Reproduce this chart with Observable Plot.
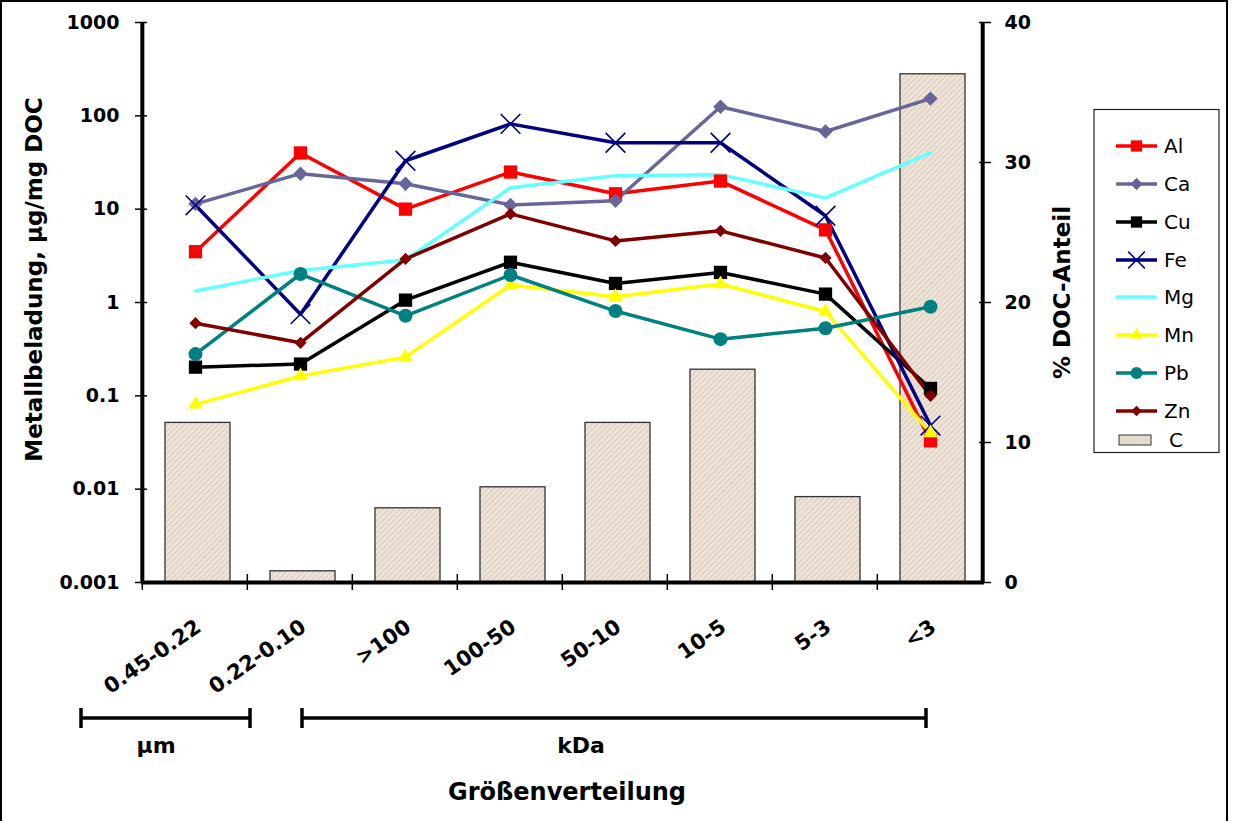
<!DOCTYPE html>
<html><head><meta charset="utf-8">
<script src="https://cdn.jsdelivr.net/npm/d3@7"></script>
<script src="https://cdn.jsdelivr.net/npm/@observablehq/plot@0.6"></script>
<style>
body{margin:0;background:#fff;}
#wrap{position:relative;width:1236px;height:821px;overflow:hidden;font-family:"DejaVu Sans",sans-serif;background:#fff;}
#wrap > svg, #wrap > div{position:absolute;left:0;top:0;}
#border{position:absolute;left:5px;top:6px;width:1228px;height:900px;border:2.5px solid #000;box-sizing:border-box;}
</style></head><body><div id="wrap"><div id="border"></div></div>
<script>
// ---- data ----
const categories = ["0.45-0.22","0.22-0.10",">100","100-50","50-10","10-5","5-3","<3"];
const Al = [3.5, 40, 10, 25, 14.6, 20, 6, 0.033];
const Ca = [11.4, 24, 18.7, 11.1, 12.3, 125, 68, 153];
const Cu = [0.203, 0.219, 1.06, 2.7, 1.6, 2.1, 1.23, 0.12];
const Fe = [11, 0.75, 33, 82, 51.5, 51.5, 8.5, 0.048];
const Mg = [1.33, 2.2, 2.86, 17, 22.8, 23.4, 13.2, 40];
const Mn = [0.081, 0.163, 0.26, 1.54, 1.15, 1.58, 0.8, 0.04];
const Pb = [0.28, 2.02, 0.72, 1.97, 0.81, 0.405, 0.53, 0.9];
const Zn = [0.6, 0.37, 2.93, 8.9, 4.57, 5.86, 3.0, 0.1];
const C  = [11.4, 0.8, 5.3, 6.8, 11.4, 15.2, 6.1, 36.3];
const leftTicks = [0.001, 0.01, 0.1, 1, 10, 100, 1000];
const rightTicks = [0, 10, 20, 30, 40];
const seriesNames = ["Al","Ca","Cu","Fe","Mg","Mn","Pb","Zn"];
const seriesValues = [Al, Ca, Cu, Fe, Mg, Mn, Pb, Zn];

// ---- styles ----
const styles = {
  Al: {color:"#ff0000", symbol:"square", r:7.5},
  Ca: {color:"#666699", symbol:"diamond2", r:6.5},
  Cu: {color:"#000000", symbol:"square", r:7.5},
  Fe: {color:"#000080", symbol:"times", r:9, stroke:true},
  Mg: {color:"#66ffff", symbol:null},
  Mn: {color:"#ffff00", symbol:"triangle2", r:7},
  Pb: {color:"#008080", symbol:"circle", r:7},
  Zn: {color:"#800000", symbol:"diamond2", r:5.5}
};
const W = 1236, H = 821, mL = 141, mR = 252, mT = 22, mB = 239;
const step = (W - mL - mR) / categories.length;
const FONT = "DejaVu Sans";
const xOpts = {domain: categories, paddingInner: 0.38, paddingOuter: 0.19, axis: null};
const wrap = document.getElementById("wrap");

// ---- bar layer (right axis, % DOC) ----
const barData = categories.map((c, i) => ({cat: c, v: C[i]}));
const bars = Plot.plot({
  width: W, height: H, marginLeft: mL, marginRight: mR, marginTop: mT, marginBottom: mB,
  style: {background: "transparent", fontFamily: FONT, overflow: "visible", color: "black"},
  x: xOpts,
  y: {domain: [0, 40], axis: null, label: null},
  marks: [
    Plot.barY(barData, {x: "cat", y: "v", fill: "url(#hatch)", stroke: "#333", strokeWidth: 1.3, dx: 3}),
    Plot.axisY({anchor: "right", ticks: rightTicks, tickSize: 12, dx: -6, tickFormat: () => "", strokeWidth: 1.5, label: null}),
    Plot.axisY({anchor: "right", ticks: rightTicks, tickSize: 0, tickPadding: 20, fontSize: 19, fontWeight: "bold", label: null}),
    Plot.ruleX(categories, {dx: -step / 2, y1: 0, y2: 0, insetTop: -8, insetBottom: -8, stroke: "black", strokeWidth: 1.5}),
    Plot.ruleY([0], {stroke: "black", strokeWidth: 4}),
    Plot.ruleX([categories[0]], {dx: -step / 2, stroke: "black", strokeWidth: 4}),
    Plot.ruleX([categories[categories.length - 1]], {dx: step / 2, stroke: "black", strokeWidth: 4}),
    Plot.text(["% DOC-Anteil"], {frameAnchor: "right", textAnchor: "middle", rotate: -90, dx: 78, dy: -10, fontSize: 23, fontWeight: "bold"})
  ]
});
d3.select(bars).insert("defs", ":first-child").html(
  '<pattern id="hatch" width="4" height="4" patternUnits="userSpaceOnUse" patternTransform="rotate(45)">' +
  '<rect width="4" height="4" fill="#ede3d8"/><line x1="0" y1="0" x2="0" y2="4" stroke="#d8c7b5" stroke-width="1.6"/></pattern>');
wrap.appendChild(bars);

// ---- line layer (left log axis) ----
const lineMarks = [];
seriesNames.forEach((name, k) => {
  const rows = categories.map((c, i) => ({cat: c, value: seriesValues[k][i]}));
  lineMarks.push(Plot.line(rows, {x: "cat", y: "value", stroke: styles[name].color, strokeWidth: 3.5}));
});
seriesNames.forEach((name, k) => {
  const s = styles[name];
  if (!s.symbol) return;
  const rows = categories.map((c, i) => ({cat: c, value: seriesValues[k][i]}));
  lineMarks.push(Plot.dot(rows, s.stroke
    ? {x: "cat", y: "value", symbol: s.symbol, r: s.r, stroke: s.color, strokeWidth: 1.6, fill: "none"}
    : {x: "cat", y: "value", symbol: s.symbol, r: s.r, fill: s.color, stroke: "none"}));
});
const lines = Plot.plot({
  width: W, height: H, marginLeft: mL, marginRight: mR, marginTop: mT, marginBottom: mB,
  style: {background: "transparent", fontFamily: FONT, overflow: "visible", color: "black"},
  x: xOpts,
  y: {type: "log", domain: [0.001, 1000], axis: null, label: null},
  marks: [
    Plot.axisY({anchor: "left", ticks: leftTicks, tickSize: 12, dx: 6, tickFormat: () => "", strokeWidth: 1.5, label: null}),
    Plot.axisY({anchor: "left", ticks: leftTicks, tickSize: 0, tickPadding: 22, tickFormat: d3.format("~g"), fontSize: 19, fontWeight: "bold", label: null}),
    Plot.axisX({tickRotate: -35, tickSize: 0, tickPadding: 42, dx: 3, fontSize: 21, fontWeight: "bold", label: null}),
    Plot.text(["Metallbeladung, µg/mg DOC"], {frameAnchor: "left", textAnchor: "middle", rotate: -90, dx: -107, dy: -23, fontSize: 23, fontWeight: "bold"}),
    ...lineMarks
  ]
});
wrap.appendChild(lines);

// ---- annotations & legend ----
const ann = d3.select(wrap).append("svg").attr("width", W).attr("height", H)
  .style("font-family", FONT);
function bracket(x1, x2, y) {
  ann.append("line").attr("x1", x1).attr("x2", x2).attr("y1", y).attr("y2", y).attr("stroke", "black").attr("stroke-width", 3.5);
  [x1, x2].forEach(x => ann.append("line").attr("x1", x).attr("x2", x).attr("y1", y - 10).attr("y2", y + 10).attr("stroke", "black").attr("stroke-width", 3.5));
}
bracket(81, 250, 718);
bracket(302, 926, 718);
const lbl = (t, x, y, s) => ann.append("text").attr("x", x).attr("y", y).attr("text-anchor", "middle")
  .attr("font-size", s).attr("font-weight", "bold").text(t);
lbl("µm", 156, 753, 22);
lbl("kDa", 581, 753, 22);
lbl("Größenverteilung", 567, 800, 24);

// legend
const lg = ann.append("g");
lg.append("rect").attr("x", 1094).attr("y", 109.5).attr("width", 125).attr("height", 343)
  .attr("fill", "white").attr("stroke", "#222").attr("stroke-width", 1.2);
const symMap = {square: d3.symbolSquare, diamond2: d3.symbolDiamond2, times: d3.symbolTimes, triangle2: d3.symbolTriangle2, circle: d3.symbolCircle};
const legendY = [146, 184, 222, 260, 297, 335, 373, 411];
seriesNames.forEach((name, k) => {
  const s = styles[name], y = legendY[k];
  lg.append("line").attr("x1", 1116).attr("x2", 1157).attr("y1", y).attr("y2", y).attr("stroke", s.color).attr("stroke-width", 3.5);
  if (s.symbol) {
    const size = Math.PI * (s.r * 0.85) ** 2;
    const p = lg.append("path").attr("d", d3.symbol(symMap[s.symbol], size)()).attr("transform", `translate(1136.5,${y})`);
    if (s.stroke) p.attr("fill", "none").attr("stroke", s.color).attr("stroke-width", 1.5);
    else p.attr("fill", s.color);
  }
  lg.append("text").attr("x", 1164).attr("y", y + 7).attr("font-size", 20).text(name);
});
lg.append("rect").attr("x", 1119).attr("y", 435).attr("width", 32).attr("height", 10)
  .attr("fill", "#e6dacd").attr("stroke", "#333").attr("stroke-width", 1);
lg.append("text").attr("x", 1169).attr("y", 447).attr("font-size", 20).text("C");
</script>
</body></html>
